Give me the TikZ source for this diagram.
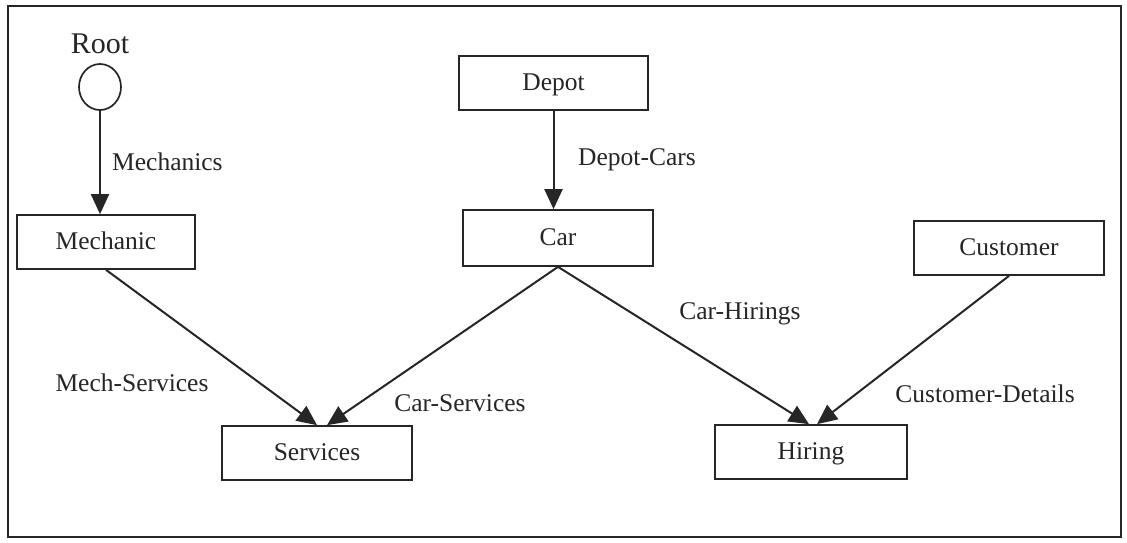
\documentclass[tikz,border=0pt]{standalone}
\usepackage{fontspec}
\setmainfont{Liberation Serif}
\usetikzlibrary{arrows.meta,shapes.geometric,calc}
\definecolor{ink}{HTML}{262626}
\begin{document}
\begin{tikzpicture}[x=1pt,y=-1pt,
  every node/.style={text=ink},
  lbl/.style={font=\fontsize{25.5}{30}\selectfont, anchor=base, inner sep=0pt},
  entity/.style={draw=ink, line width=1.7pt, rectangle, inner sep=0pt,
    minimum height=54pt, font=\fontsize{25.5}{30}\selectfont,
    text height=18pt, text depth=2.5pt},
  link/.style={draw=ink, line width=2pt,
    -{Triangle[length=20pt,width=18pt]}}
]
\useasboundingbox (0,0) rectangle (1127,542);
\fill[white] (0,0) rectangle (1127,542);
\draw[ink, line width=2.2pt] (8,6) rectangle (1121,537);

% root of the schema
\node[lbl, font=\fontsize{30}{36}\selectfont] (roottxt) at (100,53) {Root};
\node[draw=ink, line width=1.7pt, ellipse, minimum width=42pt,
      minimum height=46pt, inner sep=0pt] (root) at (100,87) {};

% entity boxes
\node[entity, minimum width=178pt] (mech) at (106,242) {Mechanic};
\node[entity, minimum width=189pt] (depot) at (553.5,83) {Depot};
\node[entity, minimum width=190pt, minimum height=56pt] (car) at (558,238) {Car};
\node[entity, minimum width=190pt] (serv) at (317,453) {Services};
\node[entity, minimum width=190pt] (cust) at (1009,248) {Customer};
\node[entity, minimum width=192pt] (hire) at (811,452) {Hiring};

% relationships
\draw[link] (root.south) -- (root.south |- mech.north);
\draw[link] (depot.south) -- (depot.south |- car.north);
\draw[link] (mech.south) -- ($(serv.north)+(0,0)$);
\draw[link] (car.south) -- ($(serv.north)+(10,0)$);
\draw[link] (car.south) -- ($(hire.north)+(-2,0)$);
\draw[link] (cust.south) -- ($(hire.north)+(6,0)$);

% relationship names
\node[lbl, anchor=base west] (lmech) at (112,170) {Mechanics};
\node[lbl, anchor=base west] (ldepot) at (578,165) {Depot-Cars};
\node[lbl] (lms) at (132,391) {Mech-Services};
\node[lbl] (lcs) at (460,411) {Car-Services};
\node[lbl] (lch) at (740,319) {Car-Hirings};
\node[lbl] (lcd) at (985,402) {Customer-Details};
\end{tikzpicture}
\end{document}
